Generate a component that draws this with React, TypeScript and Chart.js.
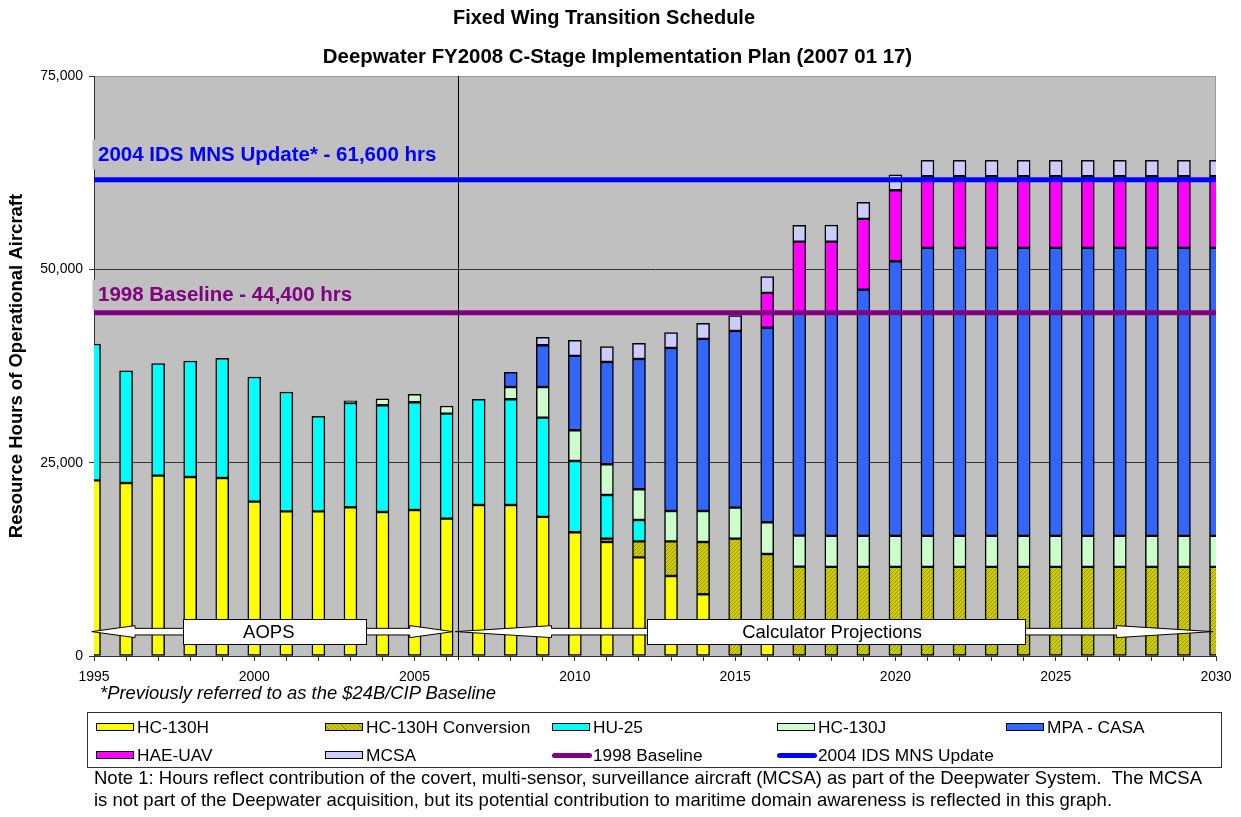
import React, { useEffect, useRef } from "react";
import { Chart, registerables } from "chart.js";

Chart.register(...registerables);

const FONT = "Arial, 'Liberation Sans', Helvetica, sans-serif";

const TITLE = "Fixed Wing Transition Schedule";
const SUBTITLE = "Deepwater FY2008 C-Stage Implementation Plan (2007 01 17)";
const Y_TITLE = "Resource Hours of Operational Aircraft";

const YEARS = [
  "1995", "1996", "1997", "1998", "1999", "2000", "2001", "2002", "2003", "2004",
  "2005", "2006", "2007", "2008", "2009", "2010", "2011", "2012", "2013", "2014",
  "2015", "2016", "2017", "2018", "2019", "2020", "2021", "2022", "2023", "2024",
  "2025", "2026", "2027", "2028", "2029", "2030",
];

const HC130H = [
  22720, 22370, 23320, 23150, 23020, 19960, 18710, 18710, 19230, 18620,
  18880, 17760, 19530, 19530, 17980, 16000, 14740, 12760, 10350, 7980,
  0, 2000, 0, 0, 0, 0, 0, 0, 0, 0,
  0, 0, 0, 0, 0, 0,
];

const HC130H_CONVERSION = [
  0, 0, 0, 0, 0, 0, 0, 0, 0, 0,
  0, 0, 0, 0, 0, 0, 430, 2070, 4480, 6760,
  15170, 11190, 11550, 11520, 11520, 11520, 11520, 11520, 11520, 11520,
  11520, 11520, 11520, 11520, 11520, 11520,
];

const HU25 = [
  17630, 14490, 14480, 15000, 15480, 16120, 15430, 12290, 13490, 13800,
  13930, 13580, 13670, 13670, 12840, 9220, 5650, 2760, 0, 0,
  0, 0, 0, 0, 0, 0, 0, 0, 0, 0,
  0, 0, 0, 0, 0, 0,
];

const HC130J = [
  0, 0, 0, 0, 0, 0, 0, 0, 260, 820,
  1030, 990, 0, 1590, 3970, 3970, 3970, 3970, 3920, 4010,
  4010, 4100, 4010, 4010, 4010, 4010, 4010, 4010, 4010, 4010,
  4010, 4010, 4010, 4010, 4010, 4010,
];

const MPA_CASA = [
  0, 0, 0, 0, 0, 0, 0, 0, 0, 0,
  0, 0, 0, 1900, 5390, 9610, 13230, 16850, 21080, 22250,
  22850, 25170, 28790, 28820, 31850, 35510, 37250, 37250, 37250, 37250,
  37250, 37250, 37250, 37250, 37250, 37250,
];

const HAE_UAV = [
  0, 0, 0, 0, 0, 0, 0, 0, 0, 0,
  0, 0, 0, 0, 0, 0, 0, 0, 0, 0,
  0, 4490, 9240, 9230, 9140, 9190, 9270, 9270, 9270, 9270,
  9270, 9270, 9270, 9270, 9270, 9270,
];

const MCSA = [
  0, 0, 0, 0, 0, 0, 0, 0, 0, 0,
  0, 0, 0, 0, 1040, 2030, 1980, 2030, 1990, 2030,
  1980, 2110, 2110, 2140, 2140, 2000, 2060, 2060, 2060, 2060,
  2060, 2060, 2060, 2060, 2060, 2060,
];

const BASELINE_1998 = 44400;
const IDS_MNS_2004 = 61600;

const Y_TICKS = [0, 25000, 50000, 75000];

const SEPARATOR_YEAR = 2006.35;

const ARROWS = [
  { label: "AOPS", from: 1994.93, to: 2006.2, value: 3150, boxFrom: 1997.78, boxTo: 2003.5, headYears: 1.35, textShift: -6 },
  { label: "Calculator Projections", from: 2006.27, to: 2029.9, value: 3150, boxFrom: 2012.25, boxTo: 2024.05, headYears: 3.0, textShift: -4 },
];

const LINE_LABELS = [
  { text: "2004 IDS MNS Update* - 61,600 hrs", color: "#0000FF", value: 64850 },
  { text: "1998 Baseline - 44,400 hrs", color: "#800080", value: 46720 },
];

const HEADINGS = [
  { text: TITLE, cx: 604, cy: 18, size: 20 },
  { text: SUBTITLE, cx: 617.5, cy: 57, size: 20.4 },
];

const C_YELLOW = "#FFFF00";
const C_OLIVE = "#C8C800";
const C_CYAN = "#00FFFF";
const C_J = "#CCFFCC";
const C_MPA = "#3366FF";
const C_UAV = "#FF00FF";
const C_MCSA = "#CCCCFF";
const C_PURPLE = "#800080";
const C_BLUE = "#0000FF";

const FOOTNOTE = "*Previously referred to as the $24B/CIP Baseline";
const NOTE_LINE1 =
  "Note 1: Hours reflect contribution of the covert, multi-sensor, surveillance aircraft (MCSA) as part of the Deepwater System.  The MCSA";
const NOTE_LINE2 =
  "is not part of the Deepwater acquisition, but its potential contribution to maritime domain awareness is reflected in this graph.";

const LEGEND = [
  { label: "HC-130H", kind: "bar", color: C_YELLOW, x: 96, row: 0 },
  { label: "HC-130H Conversion", kind: "hatch", color: C_OLIVE, x: 325, row: 0 },
  { label: "HU-25", kind: "bar", color: C_CYAN, x: 552, row: 0 },
  { label: "HC-130J", kind: "bar", color: C_J, x: 777, row: 0 },
  { label: "MPA - CASA", kind: "bar", color: C_MPA, x: 1006, row: 0 },
  { label: "HAE-UAV", kind: "bar", color: C_UAV, x: 96, row: 1 },
  { label: "MCSA", kind: "bar", color: C_MCSA, x: 325, row: 1 },
  { label: "1998 Baseline", kind: "line", color: C_PURPLE, x: 552, row: 1 },
  { label: "2004 IDS MNS Update", kind: "line", color: C_BLUE, x: 777, row: 1 },
];

function makeHatch(): CanvasPattern | string {
  const c = document.createElement("canvas");
  c.width = 4;
  c.height = 4;
  const g = c.getContext("2d");
  if (!g) return C_OLIVE;
  g.fillStyle = "#CCCC00";
  g.fillRect(0, 0, 4, 4);
  g.fillStyle = "#9A9A00";
  g.fillRect(0, 0, 1, 1);
  g.fillRect(2, 2, 1, 1);
  g.fillRect(1, 3, 1, 1);
  g.fillRect(3, 1, 1, 1);
  return g.createPattern(c, "repeat") || C_OLIVE;
}

function drawArrow(ctx: CanvasRenderingContext2D, x1: number, x2: number, y: number, head: number, hh: number, sh: number) {
  ctx.beginPath();
  ctx.moveTo(x1, y);
  ctx.lineTo(x1 + head, y - hh);
  ctx.lineTo(x1 + head, y - sh);
  ctx.lineTo(x2 - head, y - sh);
  ctx.lineTo(x2 - head, y - hh);
  ctx.lineTo(x2, y);
  ctx.lineTo(x2 - head, y + hh);
  ctx.lineTo(x2 - head, y + sh);
  ctx.lineTo(x1 + head, y + sh);
  ctx.lineTo(x1 + head, y + hh);
  ctx.closePath();
  ctx.fillStyle = "#FFFFFF";
  ctx.fill();
  ctx.strokeStyle = "#000000";
  ctx.lineWidth = 1;
  ctx.stroke();
}

const overlayPlugin = {
  id: "overlay",
  beforeDraw(chart: any) {
    const { ctx, chartArea: a } = chart;
    ctx.save();
    ctx.fillStyle = "#FFFFFF";
    ctx.fillRect(0, 0, chart.width, chart.height);
    ctx.fillStyle = "#C0C0C0";
    ctx.fillRect(a.left, a.top, a.right - a.left, a.bottom - a.top);
    ctx.fillStyle = "#000000";
    ctx.textAlign = "center";
    ctx.textBaseline = "middle";
    for (const h of HEADINGS) {
      ctx.font = `bold ${h.size}px ${FONT}`;
      ctx.fillText(h.text, h.cx, h.cy);
    }
    ctx.restore();
  },
  beforeDatasetsDraw(chart: any) {
    const { ctx, chartArea: a } = chart;
    ctx.save();
    ctx.strokeStyle = "#9A9A9A";
    ctx.lineWidth = 1;
    ctx.beginPath();
    ctx.moveTo(a.right - 0.5, a.top);
    ctx.lineTo(a.right - 0.5, a.bottom);
    ctx.stroke();
    ctx.restore();
  },
  afterDraw(chart: any) {
    const { ctx, chartArea: a } = chart;
    const xs = chart.scales.x;
    const ys = chart.scales.y;
    const px = (year: number) => xs.getPixelForValue(year - Number(YEARS[0]));
    ctx.save();
    for (const ar of ARROWS) {
      const y = ys.getPixelForValue(ar.value);
      const x1 = px(ar.from);
      const x2 = px(ar.to);
      const head = px(ar.from + ar.headYears) - x1;
      drawArrow(ctx, x1, x2, y, head, 6, 3.3);
      const bx1 = px(ar.boxFrom);
      const bx2 = px(ar.boxTo);
      ctx.fillStyle = "#FFFFFF";
      ctx.fillRect(bx1, y - 12.5, bx2 - bx1, 25);
      ctx.strokeStyle = "#000000";
      ctx.lineWidth = 1;
      ctx.strokeRect(Math.round(bx1) + 0.5, Math.round(y - 12.5) + 0.5, Math.round(bx2 - bx1), 25);
      ctx.fillStyle = "#000000";
      ctx.font = `18.5px ${FONT}`;
      ctx.textAlign = "center";
      ctx.textBaseline = "middle";
      ctx.fillText(ar.label, (bx1 + bx2) / 2 + ar.textShift, y + 1);
    }
    const sx = Math.round(px(SEPARATOR_YEAR)) + 0.5;
    ctx.strokeStyle = "#000000";
    ctx.lineWidth = 1;
    ctx.beginPath();
    ctx.moveTo(sx, a.top);
    ctx.lineTo(sx, a.bottom + 4);
    ctx.stroke();
    ctx.font = `bold 20.5px ${FONT}`;
    ctx.textAlign = "left";
    ctx.textBaseline = "middle";
    for (const lb of LINE_LABELS) {
      const y = ys.getPixelForValue(lb.value);
      const w = ctx.measureText(lb.text).width;
      ctx.fillStyle = "#C0C0C0";
      ctx.fillRect(a.left - 1.5, y - 15, w + 8, 30);
      ctx.fillStyle = lb.color;
      ctx.fillText(lb.text, a.left + 4, y + 1);
    }
    ctx.restore();
  },
};

export default function App() {
  const ref = useRef<HTMLCanvasElement | null>(null);

  useEffect(() => {
    const canvas = ref.current;
    if (!canvas) return;
    const hatch = makeHatch();
    const nz = (arr: number[]) => arr.map((v) => (v === 0 ? null : v));
    const bar = (label: string, data: number[], bg: any) => ({
      type: "bar" as const,
      label,
      data: nz(data),
      backgroundColor: bg,
      borderColor: "#000000",
      borderWidth: 1.5,
      borderSkipped: false,
      barThickness: 13,
      stack: "fleet",
      order: 2,
      clip: 0,
    });
    const line = (label: string, value: number, color: string, stack: string) => ({
      type: "line" as const,
      label,
      data: YEARS.map(() => value),
      borderColor: color,
      backgroundColor: color,
      borderWidth: 5,
      pointRadius: 0,
      fill: false,
      tension: 0,
      stack,
      order: 1,
      clip: 0,
    });

    const chart = new Chart(canvas, {
      type: "bar",
      data: {
        labels: YEARS,
        datasets: [
          bar("HC-130H", HC130H, C_YELLOW),
          bar("HC-130H Conversion", HC130H_CONVERSION, hatch),
          bar("HU-25", HU25, C_CYAN),
          bar("HC-130J", HC130J, C_J),
          bar("MPA - CASA", MPA_CASA, C_MPA),
          bar("HAE-UAV", HAE_UAV, C_UAV),
          bar("MCSA", MCSA, C_MCSA),
          line("1998 Baseline", BASELINE_1998, C_PURPLE, "base1998"),
          line("2004 IDS MNS Update", IDS_MNS_2004, C_BLUE, "ids2004"),
        ] as any,
      },
      options: {
        responsive: false,
        maintainAspectRatio: false,
        animation: false,
        devicePixelRatio: 1,
        layout: { padding: { left: 0, right: 25, top: 76, bottom: 131 } },
        plugins: {
          legend: { display: false },
          tooltip: { enabled: false },
          title: { display: false },
          subtitle: { display: false },
        },
        scales: {
          x: {
            type: "category",
            stacked: true,
            offset: false,
            grid: {
              offset: false,
              drawOnChartArea: false,
              drawTicks: true,
              tickLength: 5,
              color: "#333333",
              tickColor: "#333333",
            },
            border: { display: true, color: "#333333", width: 1 },
            ticks: {
              autoSkip: false,
              maxRotation: 0,
              minRotation: 0,
              padding: 8,
              color: "#000000",
              font: { family: FONT, size: 14 },
              callback: (_v: any, i: number) => (Number(YEARS[i]) % 5 === 0 ? YEARS[i] : ""),
            },
            afterFit: (s: any) => {
              s.height = 30;
            },
          },
          y: {
            stacked: true,
            min: Y_TICKS[0],
            max: Y_TICKS[Y_TICKS.length - 1],
            afterBuildTicks: (s: any) => {
              s.ticks = Y_TICKS.map((v) => ({ value: v }));
            },
            ticks: {
              padding: 6,
              color: "#000000",
              font: { family: FONT, size: 14 },
              callback: (v: any) => Number(v).toLocaleString("en-US"),
            },
            grid: {
              color: (c: any) => (c.tick && c.tick.value === 75000 ? "#9A9A9A" : "#333333"),
              tickLength: 5,
              tickColor: "#333333",
            },
            border: { display: true, color: "#333333", width: 1 },
            title: {
              display: true,
              text: Y_TITLE,
              color: "#000000",
              font: { family: FONT, size: 18.5, weight: "bold" },
              padding: { top: 6, bottom: 0 },
            },
            afterFit: (s: any) => {
              s.width = 94;
            },
          },
        },
      } as any,
      plugins: [overlayPlugin],
    });
    return () => chart.destroy();
  }, []);

  const rowY = [727, 755];

  return (
    <div
      style={{
        position: "fixed",
        left: 0,
        top: 0,
        width: 1241,
        height: 817,
        background: "#FFFFFF",
        fontFamily: FONT,
        overflow: "hidden",
      }}
    >
      <canvas
        ref={ref}
        width={1241}
        height={817}
        style={{ position: "absolute", left: 0, top: 0, width: 1241, height: 817 }}
      />
      <div
        style={{
          position: "absolute",
          left: 100,
          top: 682,
          fontSize: 18.4,
          lineHeight: "22px",
          fontStyle: "italic",
          color: "#000",
          whiteSpace: "pre",
        }}
      >
        {FOOTNOTE}
      </div>
      <div
        style={{
          position: "absolute",
          left: 87,
          top: 712,
          width: 1135,
          height: 56,
          boxSizing: "border-box",
          border: "1px solid #333",
        }}
      />
      {LEGEND.map((it) => {
        const cy = rowY[it.row];
        let sw: React.ReactNode;
        if (it.kind === "line") {
          sw = (
            <div
              style={{
                position: "absolute",
                left: it.x,
                top: cy - 2.5,
                width: 40,
                height: 5,
                borderRadius: 3,
                background: it.color,
              }}
            />
          );
        } else {
          sw = (
            <div
              style={{
                position: "absolute",
                left: it.x,
                top: cy - 4,
                width: 38,
                height: 8,
                boxSizing: "border-box",
                border: "1.5px solid #000",
                background:
                  it.kind === "hatch"
                    ? "repeating-linear-gradient(45deg, #CCCC00 0px, #CCCC00 2px, #9A9A00 2px, #9A9A00 3px)"
                    : it.color,
              }}
            />
          );
        }
        return (
          <React.Fragment key={it.label}>
            {sw}
            <div
              style={{
                position: "absolute",
                left: it.x + 41,
                top: cy - 10,
                fontSize: 17.3,
                lineHeight: "20px",
                color: "#000",
                whiteSpace: "pre",
              }}
            >
              {it.label}
            </div>
          </React.Fragment>
        );
      })}
      <div
        style={{
          position: "absolute",
          left: 94,
          top: 767,
          fontSize: 18.5,
          lineHeight: "22px",
          color: "#000",
          whiteSpace: "pre",
        }}
      >
        {NOTE_LINE1 + "\n" + NOTE_LINE2}
      </div>
    </div>
  );
}
